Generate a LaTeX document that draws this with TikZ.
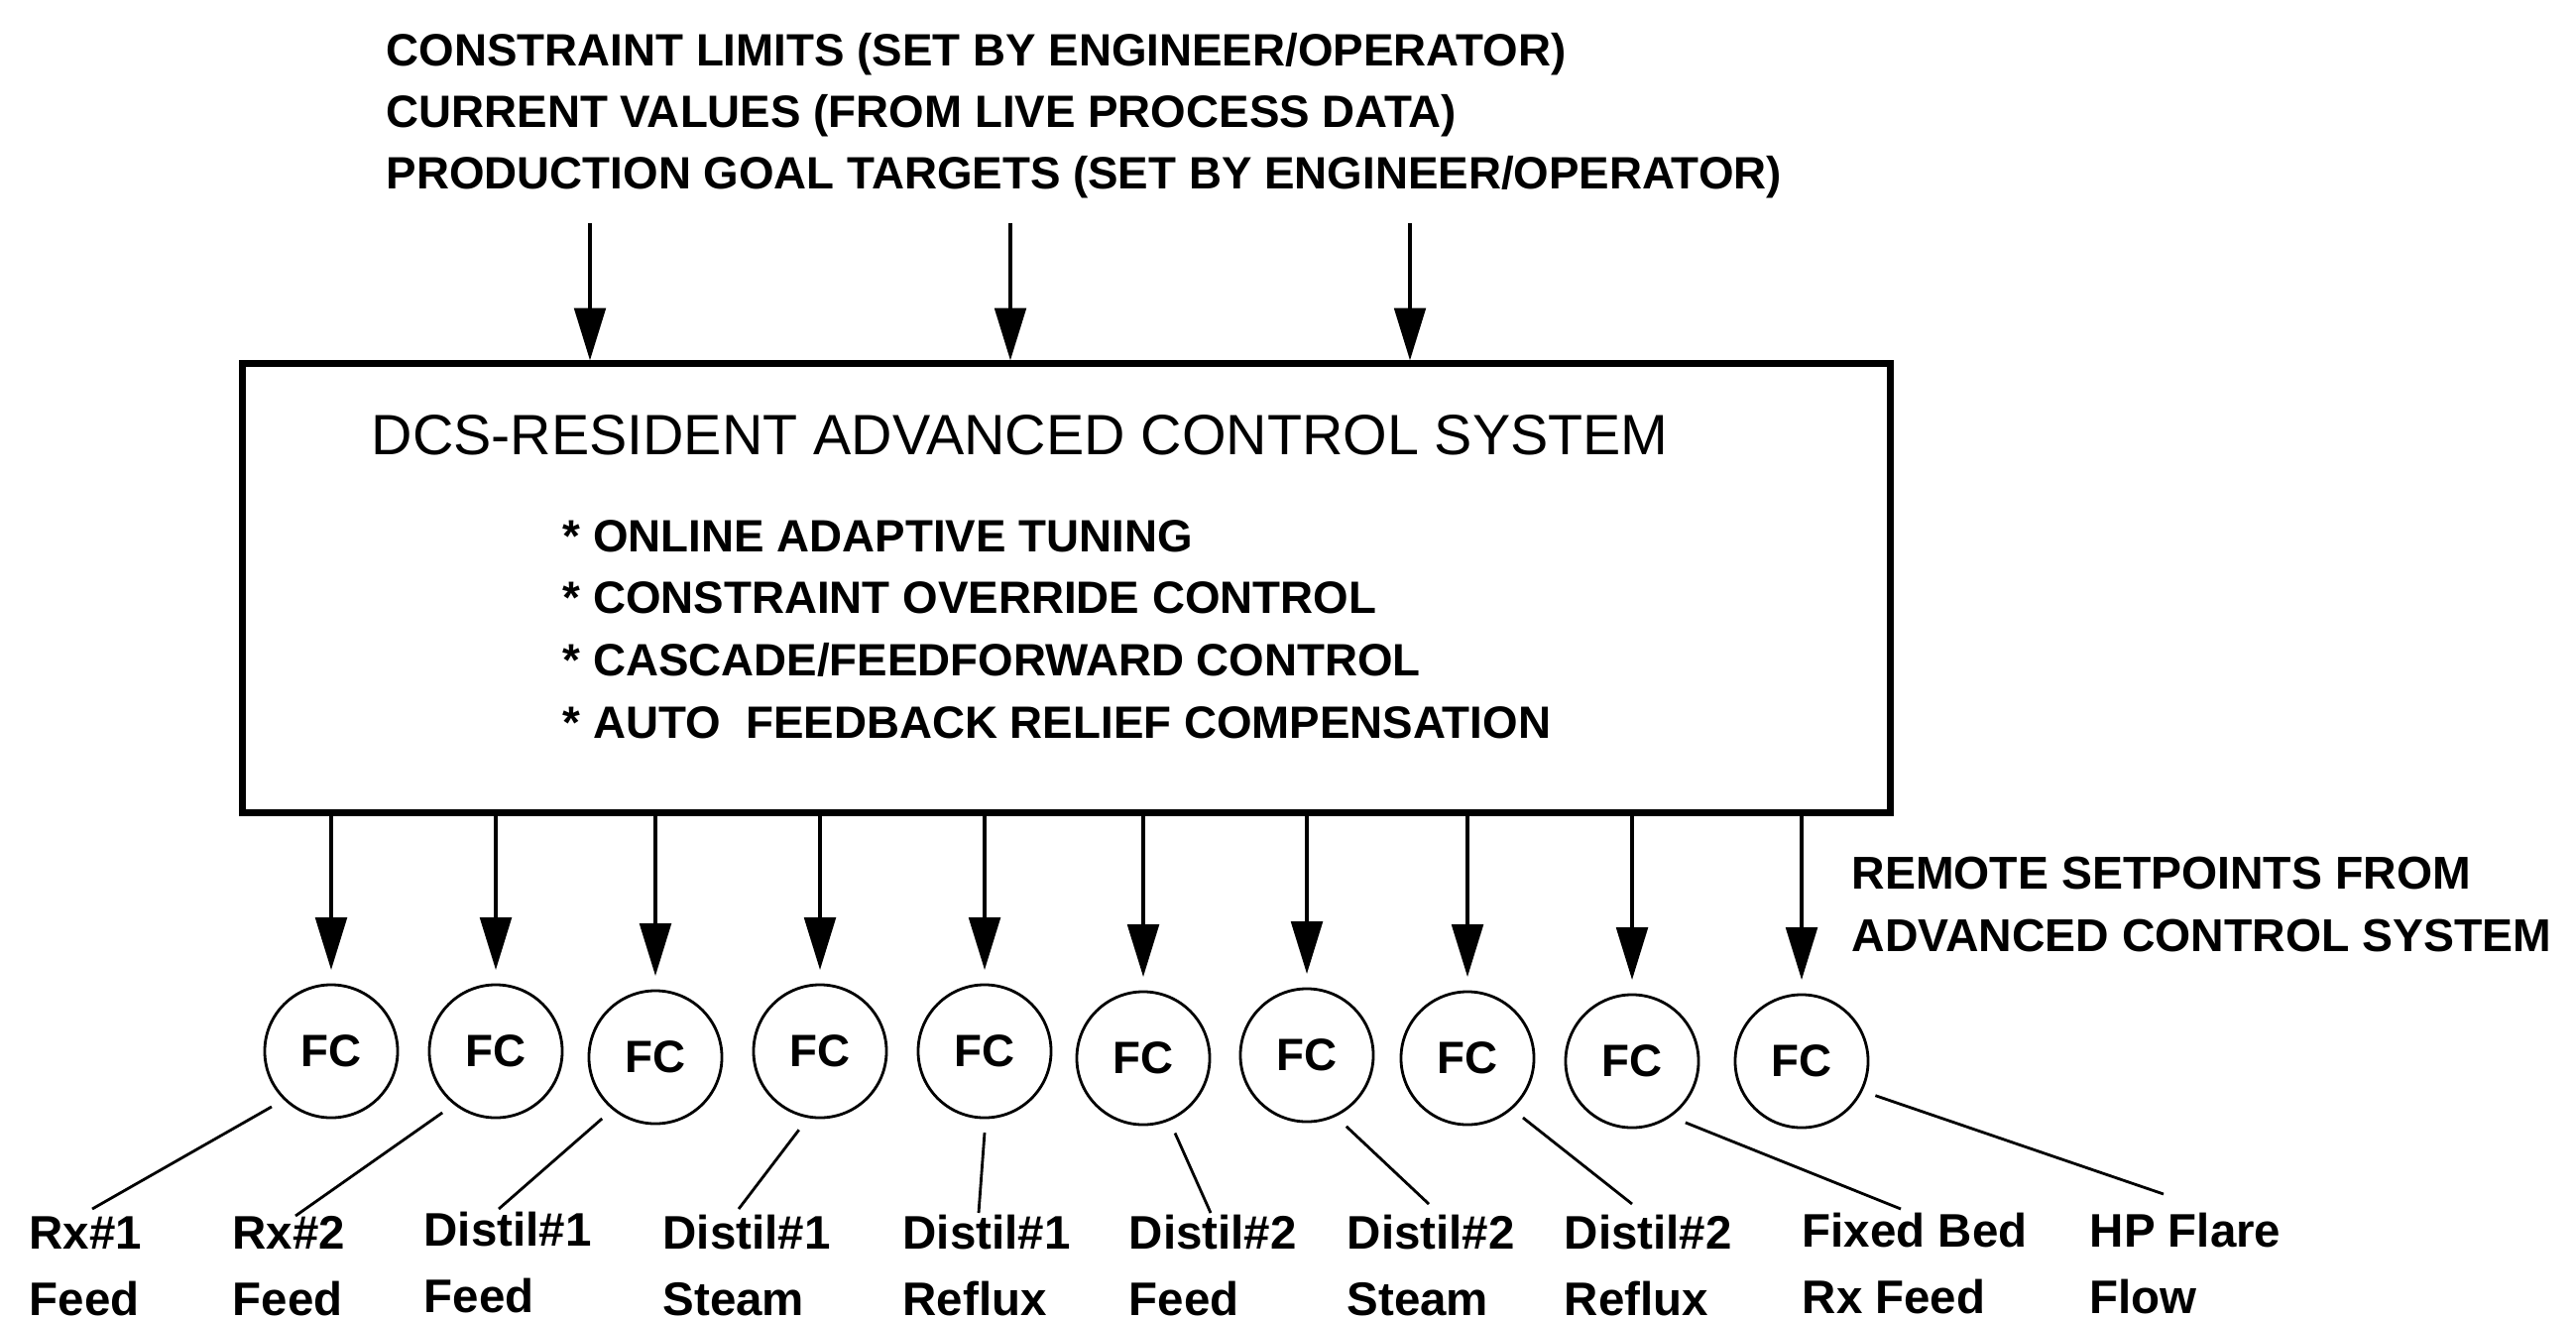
\documentclass[tikz,border=0pt]{standalone}
\usepackage{fontspec}
\setmainfont{Liberation Sans}
\usetikzlibrary{arrows.meta}
\begin{document}
\begin{tikzpicture}[x=0.01cm,y=-0.01cm,>={Triangle[length=15pt,width=9pt]},
  feed/.style={->,line width=0.9pt},
  lead/.style={line width=0.8pt},
  fcnode/.style={draw,circle,line width=0.8pt,minimum size=1.34cm,inner sep=0pt,outer sep=0.15cm,font=\fontsize{13}{16}\selectfont\bfseries},
  txt/.style={anchor=base west,align=left,inner sep=0pt,font=\fontsize{13}{17.6}\selectfont\bfseries},
  lbl/.style={anchor=base west,align=left,inner sep=0pt,font=\fontsize{13.5}{18.8}\selectfont\bfseries}]
\useasboundingbox (0,0) rectangle (2598,1330);
\node[txt] (inputs) at (389,190) {CONSTRAINT LIMITS (SET BY ENGINEER/OPERATOR)\\CURRENT VALUES (FROM LIVE PROCESS DATA)\\PRODUCTION GOAL TARGETS (SET BY ENGINEER/OPERATOR)};
\node[draw,line width=2pt,minimum width=16.61cm,minimum height=4.52cm,inner sep=0pt] (acs) at (1075.5,593) {};
\node[anchor=base west,inner sep=0pt,font=\fontsize{16.3}{20}\selectfont] (title) at (374,458) {DCS-RESIDENT ADVANCED CONTROL SYSTEM};
\node[txt,font=\fontsize{13}{17.8}\selectfont\bfseries] (feat) at (567,744) {* ONLINE ADAPTIVE TUNING\\* CONSTRAINT OVERRIDE CONTROL\\* CASCADE/FEEDFORWARD CONTROL\\* AUTO~ FEEDBACK RELIEF COMPENSATION};
\node[txt,font=\fontsize{13.2}{17.9}\selectfont\bfseries] (rsp) at (1867,959) {REMOTE SETPOINTS FROM\\ADVANCED CONTROL SYSTEM};
% inputs to the box
\coordinate (in1) at (595,225);
\coordinate (in2) at (1019,225);
\coordinate (in3) at (1422,225);
\draw[feed] (in1) -- (in1 |- acs.north);
\draw[feed] (in2) -- (in2 |- acs.north);
\draw[feed] (in3) -- (in3 |- acs.north);
% flow controllers
\node[fcnode] (fc1) at (334,1060) {FC};
\node[fcnode] (fc2) at (500,1060) {FC};
\node[fcnode] (fc3) at (661,1066) {FC};
\node[fcnode] (fc4) at (827,1060) {FC};
\node[fcnode] (fc5) at (993,1060) {FC};
\node[fcnode] (fc6) at (1153,1067) {FC};
\node[fcnode] (fc7) at (1318,1064) {FC};
\node[fcnode] (fc8) at (1480,1067) {FC};
\node[fcnode] (fc9) at (1646,1070) {FC};
\node[fcnode] (fc10) at (1817,1070) {FC};
\draw[feed] (acs.south -| fc1) -- (fc1.north);
\draw[feed] (acs.south -| fc2) -- (fc2.north);
\draw[feed] (acs.south -| fc3) -- (fc3.north);
\draw[feed] (acs.south -| fc4) -- (fc4.north);
\draw[feed] (acs.south -| fc5) -- (fc5.north);
\draw[feed] (acs.south -| fc6) -- (fc6.north);
\draw[feed] (acs.south -| fc7) -- (fc7.north);
\draw[feed] (acs.south -| fc8) -- (fc8.north);
\draw[feed] (acs.south -| fc9) -- (fc9.north);
\draw[feed] (acs.south -| fc10) -- (fc10.north);
% labels
\node[lbl] (l1) at (29,1326) {Rx\#1\\Feed};
\node[lbl] (l2) at (234,1326) {Rx\#2\\Feed};
\node[lbl] (l3) at (427,1323) {Distil\#1\\Feed};
\node[lbl] (l4) at (668,1326) {Distil\#1\\Steam};
\node[lbl] (l5) at (910,1326) {Distil\#1\\Reflux};
\node[lbl] (l6) at (1138,1326) {Distil\#2\\Feed};
\node[lbl] (l7) at (1358,1326) {Distil\#2\\Steam};
\node[lbl] (l8) at (1577,1326) {Distil\#2\\Reflux};
\node[lbl] (l9) at (1817,1324) {Fixed Bed\\Rx Feed};
\node[lbl] (l10) at (2107,1324) {HP Flare\\Flow};
\coordinate (t1) at (93,1219);
\coordinate (t2) at (298,1226);
\coordinate (t3) at (503,1219);
\coordinate (t4) at (745,1219);
\coordinate (t5) at (987,1223);
\coordinate (t6) at (1221,1223);
\coordinate (t7) at (1441,1214);
\coordinate (t8) at (1646,1214);
\coordinate (t9) at (1917,1219);
\coordinate (t10) at (2182,1204);
\draw[lead] (fc1.223) -- (t1);
\draw[lead] (fc2.229) -- (t2);
\draw[lead] (fc3.229) -- (t3);
\draw[lead] (fc4.255) -- (t4);
\draw[lead] (fc5.270) -- (t5);
\draw[lead] (fc6.293) -- (t6);
\draw[lead] (fc7.299) -- (t7);
\draw[lead] (fc8.313) -- (t8);
\draw[lead] (fc9.311) -- (t9);
\draw[lead] (fc10.335) -- (t10);
\end{tikzpicture}
\end{document}
